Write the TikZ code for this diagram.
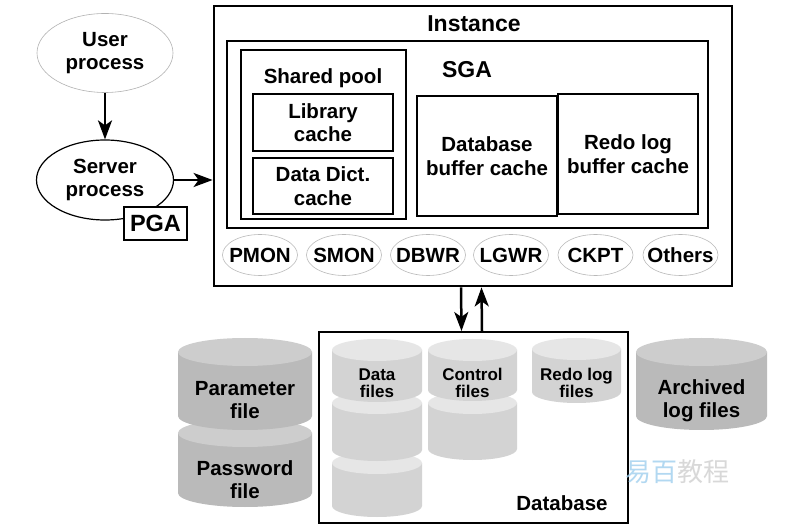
\documentclass[tikz,border=0pt]{standalone}
\usepackage{fontspec}
\setmainfont{Liberation Sans}
\newfontfamily\cjkfont{Noto Sans CJK SC}
\usetikzlibrary{arrows.meta,shapes.geometric}
\definecolor{cylbody}{HTML}{D3D3D3}
\definecolor{cylcap}{HTML}{E6E6E6}
\definecolor{dcylbody}{HTML}{BABABA}
\definecolor{dcylcap}{HTML}{CDCDCD}
\definecolor{wmblue}{HTML}{9FCFEE}
\definecolor{wmgray}{HTML}{CFCFCF}
% cx, top, bottom, rx, ry, body colour, cap colour
\newcommand\dbcylinder[7]{%
  \fill[#6] (#1-#4,#2+#5) -- (#1-#4,#3-#5)
     arc[start angle=180,end angle=0,x radius=#4,y radius=#5] -- (#1+#4,#2+#5) -- cycle;
  \fill[#7] (#1,#2+#5) ellipse[x radius=#4,y radius=#5];
}
\begin{document}
\begin{tikzpicture}[x=1pt,y=-1pt,
  lbl/.style={font=\fontsize{20.5}{23.5}\selectfont\bfseries, align=center, inner sep=0pt},
  biglbl/.style={font=\fontsize{23}{26}\selectfont\bfseries, inner sep=0pt},
  smalllbl/.style={font=\fontsize{17}{17}\selectfont\bfseries, align=center, inner sep=0pt},
  boxnode/.style={draw, fill=white, inner sep=0pt},
  procnode/.style={ellipse, draw=gray!55, line width=0.6pt, fill=white,
     minimum width=75pt, minimum height=41pt, inner sep=0pt,
     label={[font=\fontsize{20.5}{23.5}\selectfont\bfseries, inner sep=0pt]center:#1}},
  arr/.style={line width=2.5pt, -{Stealth[length=19pt,width=14pt,inset=5pt]}}]
\fill[white] (0,0) rectangle (806,526);
\useasboundingbox (0,0) rectangle (806,526);

% client side
\node[ellipse, draw=gray!60, line width=0.6pt, minimum width=136pt, minimum height=79pt, lbl] (user) at (105,53) {User\\process};
\node[ellipse, draw, line width=1.2pt, minimum width=137pt, minimum height=80pt, lbl] (server) at (105,180) {Server\\process};
\node[boxnode, line width=2pt, minimum width=63pt, minimum height=33pt, font=\fontsize{23.5}{26}\selectfont\bfseries] (pga) at (155.5,223.5) {PGA};

% instance
\node[draw, line width=2.8pt, minimum width=518pt, minimum height=280pt] (inst) at (473,146) {};
\node[biglbl] (instlbl) at (474,24) {Instance};
\node[draw, line width=2.4pt, minimum width=481pt, minimum height=187pt] (sga) at (467.5,134.5) {};
\node[biglbl] (sgalbl) at (467,70) {SGA};
\node[draw, line width=1.6pt, minimum width=165pt, minimum height=169pt] (pool) at (323.5,134.5) {};
\node[lbl] (poollbl) at (323,78) {Shared pool};
\node[boxnode, line width=2pt, minimum width=140pt, minimum height=57pt, lbl] (lib) at (323,122.5) {Library\\cache};
\node[boxnode, line width=2pt, minimum width=140pt, minimum height=56pt, lbl] (dict) at (323,186) {Data Dict.\\cache};
\node[boxnode, line width=1.5pt, minimum width=140pt, minimum height=120pt, lbl] (dbbuf) at (487,156) {Database\\buffer cache};
\node[boxnode, line width=2.2pt, minimum width=140pt, minimum height=120pt, lbl] (redobuf) at (628,154) {Redo log\\buffer cache};

\node[procnode=PMON] (pmon) at (260,255) {};
\node[procnode=SMON] (smon) at (344,255) {};
\node[procnode=DBWR] (dbwr) at (428,255) {};
\node[procnode=LGWR] (lgwr) at (511,255) {};
\node[procnode=CKPT] (ckpt) at (595.5,255) {};
\node[procnode=Others] (others) at (680.5,255) {};

% database
\node[draw, line width=2pt, minimum width=309pt, minimum height=191pt] (db) at (473.5,427.5) {};
\node[lbl] (dblbl) at (562,503) {Database};

% cylinders
\dbcylinder{245}{419}{507}{67}{14}{dcylbody}{dcylcap}
\dbcylinder{245}{338}{430}{67}{14}{dcylbody}{dcylcap}
\node[lbl] (parlbl) at (245,400) {Parameter\\file};
\node[lbl] (pwdlbl) at (245,479.5) {Password\\file};

\dbcylinder{377}{452}{517}{45}{11}{cylbody}{cylcap}
\dbcylinder{377}{392}{461}{45}{11}{cylbody}{cylcap}
\dbcylinder{377}{339}{402}{45}{11}{cylbody}{cylcap}
\node[smalllbl] (datalbl) at (377,383) {Data\\files};

\dbcylinder{472.5}{392}{460}{44.5}{11}{cylbody}{cylcap}
\dbcylinder{472.5}{339}{401}{44.5}{11}{cylbody}{cylcap}
\node[smalllbl] (ctllbl) at (472.5,383) {Control\\files};

\dbcylinder{576.5}{338}{403}{44.5}{11}{cylbody}{cylcap}
\node[smalllbl] (redolbl) at (576.5,383) {Redo log\\files};

\dbcylinder{701.5}{338}{430}{65.5}{14}{dcylbody}{dcylcap}
\node[lbl] (arclbl) at (701.5,400.5) {Archived\\log files};

% connectors
\draw[arr] (user) -- (server);
\draw[arr] (server.east) -- (server.east -| inst.west);
\draw[arr] ([xshift=-12pt]inst.south) -- ([xshift=-12pt]db.north);
\draw[arr] ([xshift=8.5pt]db.north) -- ([xshift=8.5pt]inst.south);

% watermark
\node[font=\cjkfont\fontsize{26}{26}\selectfont, inner sep=0pt, opacity=0.8] (wm) at (677,472) {\textcolor{wmblue}{易百}\textcolor{wmgray}{教程}};
\end{tikzpicture}
\end{document}
